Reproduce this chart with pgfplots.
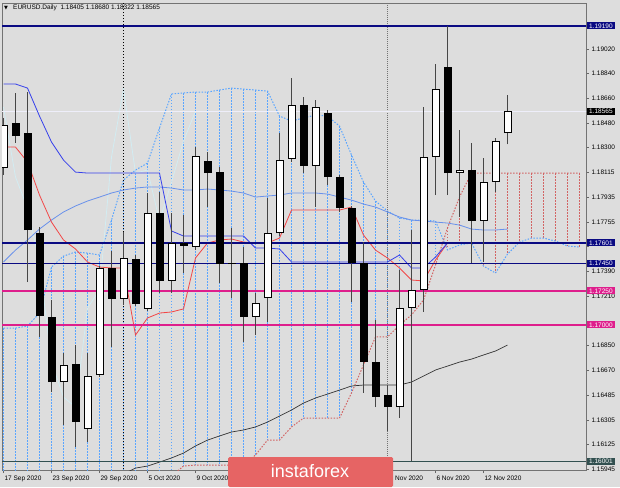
\documentclass[border=0pt]{standalone}
\usepackage{pgfplots}
\pgfplotsset{compat=1.18}
\usepackage{pgfplotstable}
\usepackage{fontspec}
\setmainfont{Liberation Sans}
\newfontfamily\symfont{DejaVu Sans}
\newcommand\tickfont{\fontsize{6.5}{7}\selectfont}

\definecolor{bg}{RGB}{221,221,221}
\definecolor{navyl}{RGB}{10,10,130}
\definecolor{magl}{RGB}{222,30,140}
\definecolor{slatel}{RGB}{50,80,80}
\definecolor{tenkan}{RGB}{242,70,70}
\definecolor{kijun}{RGB}{55,65,235}
\definecolor{mablue}{RGB}{105,145,235}
\definecolor{cloudblue}{RGB}{90,165,255}
\definecolor{cloudred}{RGB}{210,100,100}
\definecolor{chikou}{RGB}{210,236,242}
\definecolor{wick}{RGB}{70,70,70}
\definecolor{logo}{RGB}{230,100,100}
\definecolor{bidline}{RGB}{238,238,250}

% daily candles: index, open, high, low, close
\pgfplotstableread{
i o h l c
1 1.18478 1.18698 1.18332 1.18383
2 1.18405 1.18705 1.17314 1.17695
3 1.17673 1.17717 1.16912 1.17065
4 1.17058 1.17182 1.16509 1.16582
6 1.16714 1.16853 1.16106 1.16289
9 1.17417 1.17541 1.16838 1.17190
11 1.17483 1.17512 1.17139 1.17153
13 1.17819 1.17973 1.17234 1.17322
15 1.17600 1.17805 1.17380 1.17578
17 1.18200 1.18266 1.17863 1.18112
18 1.18120 1.18156 1.17307 1.17446
19 1.17453 1.17710 1.17197 1.17446
20 1.17453 1.17570 1.16875 1.17058
25 1.18610 1.18669 1.18112 1.18163
27 1.18551 1.18573 1.18024 1.18083
28 1.18083 1.18098 1.17827 1.17856
29 1.17856 1.17871 1.17168 1.17453
30 1.17453 1.17607 1.16502 1.16729
31 1.16729 1.17036 1.16399 1.16472
32 1.16487 1.16560 1.16223 1.16399
37 1.18888 1.19190 1.17951 1.18112
39 1.18134 1.18332 1.17453 1.17761
}\blackc

\pgfplotstableread{
i o h l c
0 1.18149 1.18515 1.18098 1.18464
5 1.16582 1.16794 1.16267 1.16707
7 1.16238 1.16794 1.16143 1.16626
8 1.16633 1.17431 1.16619 1.17417
10 1.17190 1.17680 1.17146 1.17490
12 1.17117 1.17966 1.17102 1.17819
14 1.17322 1.17819 1.17234 1.17600
16 1.17570 1.18303 1.17549 1.18237
21 1.17058 1.17234 1.16926 1.17161
22 1.17197 1.17929 1.17021 1.17673
23 1.17673 1.18405 1.17651 1.18207
24 1.18215 1.18808 1.18193 1.18610
26 1.18163 1.18647 1.17863 1.18595
33 1.16399 1.17402 1.16319 1.17124
34 1.17124 1.17695 1.16001 1.17256
35 1.17256 1.18595 1.17095 1.18229
36 1.18229 1.18910 1.17951 1.18727
38 1.18112 1.18427 1.17790 1.18134
40 1.17761 1.18222 1.17461 1.18046
41 1.18046 1.18368 1.17973 1.18346
42 1.18405 1.18680 1.18322 1.18565
}\whitec

% Ichimoku cloud: senkou span A (a) and B (b)
\pgfplotstableread{
i a b
0 1.16977 1.15700
1 1.16977 1.15700
2 1.16992 1.15700
3 1.17087 1.15700
4 1.17424 1.15700
5 1.17504 1.15700
6 1.17534 1.15700
7 1.17526 1.15700
8 1.17512 1.15700
9 1.17768 1.15700
10 1.18061 1.15700
11 1.18134 1.15700
12 1.18185 1.15700
13 1.18442 1.15750
14 1.18691 1.15894
15 1.18698 1.15967
16 1.18705 1.15974
17 1.18705 1.15974
18 1.18720 1.15974
19 1.18734 1.15974
20 1.18727 1.15974
21 1.18720 1.16048
22 1.18712 1.16157
23 1.18529 1.16157
24 1.18493 1.16253
25 1.18515 1.16318
26 1.18537 1.16318
27 1.18529 1.16318
28 1.18456 1.16318
29 1.18244 1.16502
30 1.18046 1.16707
31 1.17907 1.16912
32 1.17834 1.16912
33 1.17783 1.16999
34 1.17768 1.17073
35 1.17768 1.17182
36 1.17761 1.17439
37 1.17549 1.17710
38 1.17585 1.17936
39 1.17600 1.18112
40 1.17431 1.18112
41 1.17380 1.18112
42 1.17519 1.18112
43 1.17607 1.18112
44 1.17636 1.18112
45 1.17636 1.18112
46 1.17614 1.18112
47 1.17578 1.18112
48 1.17570 1.18112
}\cloud

% cloud hatching: one vertical segment per bar (span A to span B), nan breaks
\pgfplotstableread{
i y
0 1.16977
0 1.15700
0 nan
1 1.16977
1 1.15700
1 nan
2 1.16992
2 1.15700
2 nan
3 1.17087
3 1.15700
3 nan
4 1.17424
4 1.15700
4 nan
5 1.17504
5 1.15700
5 nan
6 1.17534
6 1.15700
6 nan
7 1.17526
7 1.15700
7 nan
8 1.17512
8 1.15700
8 nan
9 1.17768
9 1.15700
9 nan
10 1.18061
10 1.15700
10 nan
11 1.18134
11 1.15700
11 nan
12 1.18185
12 1.15700
12 nan
13 1.18442
13 1.15750
13 nan
14 1.18691
14 1.15894
14 nan
15 1.18698
15 1.15967
15 nan
16 1.18705
16 1.15974
16 nan
17 1.18705
17 1.15974
17 nan
18 1.18720
18 1.15974
18 nan
19 1.18734
19 1.15974
19 nan
20 1.18727
20 1.15974
20 nan
21 1.18720
21 1.16048
21 nan
22 1.18712
22 1.16157
22 nan
23 1.18529
23 1.16157
23 nan
24 1.18493
24 1.16253
24 nan
25 1.18515
25 1.16318
25 nan
26 1.18537
26 1.16318
26 nan
27 1.18529
27 1.16318
27 nan
28 1.18456
28 1.16318
28 nan
29 1.18244
29 1.16502
29 nan
30 1.18046
30 1.16707
30 nan
31 1.17907
31 1.16912
31 nan
32 1.17834
32 1.16912
32 nan
33 1.17783
33 1.16999
33 nan
34 1.17768
34 1.17073
34 nan
35 1.17768
35 1.17182
35 nan
36 1.17761
36 1.17439
}\hatchblue

\pgfplotstableread{
i y
37 1.17710
37 1.17549
37 nan
38 1.17936
38 1.17585
38 nan
39 1.18112
39 1.17600
39 nan
40 1.18112
40 1.17431
40 nan
41 1.18112
41 1.17380
41 nan
42 1.18112
42 1.17519
42 nan
43 1.18112
43 1.17607
43 nan
44 1.18112
44 1.17636
44 nan
45 1.18112
45 1.17636
45 nan
46 1.18112
46 1.17614
46 nan
47 1.18112
47 1.17578
47 nan
48 1.18112
48 1.17570
}\hatchred

% tenkan (t), kijun (k), moving average light blue (m)
\pgfplotstableread{
i t k m
0 1.18302 1.18764 1.17461
1 1.18302 1.18764 1.17548
2 1.18193 1.18734 1.17622
3 1.17951 1.18529 1.17702
4 1.17753 1.18339 1.17768
5 1.17622 1.18207 1.17827
6 1.17556 1.18119 1.17871
7 1.17461 1.18112 1.17907
8 1.17424 1.18112 1.17936
9 1.17417 1.18112 1.17966
10 1.17417 1.18112 1.17988
11 1.16926 1.18112 1.18002
12 1.17051 1.18112 1.18010
13 1.17087 1.18112 1.18010
14 1.17095 1.17688 1.18002
15 1.17117 1.17651 1.17988
16 1.17490 1.17651 1.17988
17 1.17600 1.17651 1.17995
18 1.17622 1.17651 1.17988
19 1.17629 1.17651 1.17980
20 1.17607 1.17651 1.17966
21 1.17600 1.17563 1.17936
22 1.17600 1.17563 1.17944
23 1.17636 1.17556 1.17951
24 1.17841 1.17461 1.17966
25 1.17841 1.17461 1.17966
26 1.17841 1.17461 1.17966
27 1.17841 1.17461 1.17958
28 1.17841 1.17461 1.17936
29 1.17863 1.17461 1.17914
30 1.17658 1.17461 1.17885
31 1.17548 1.17461 1.17863
32 1.17490 1.17461 1.17827
33 1.17417 1.17512 1.17790
34 1.17329 1.17417 1.17768
35 1.17322 1.17417 1.17761
36 1.17475 1.17497 1.17753
37 1.17600 1.17600 1.17746
38 1.17600 1.17600 1.17731
39 1.17600 1.17600 1.17702
40 1.17600 1.17600 1.17695
41 1.17600 1.17600 1.17695
42 1.17600 1.17600 1.17702
}\lines

% slow moving average (black)
\pgfplotstableread{
i y
10 1.15908
11 1.15952
12 1.15967
13 1.15996
14 1.16026
15 1.16062
16 1.16114
17 1.16157
18 1.16187
19 1.16216
20 1.16231
21 1.16253
22 1.16289
23 1.16333
24 1.16377
25 1.16428
26 1.16465
27 1.16494
28 1.16523
29 1.16553
30 1.16560
31 1.16560
32 1.16560
33 1.16560
34 1.16582
35 1.16626
36 1.16670
37 1.16699
38 1.16728
39 1.16750
40 1.16780
41 1.16809
42 1.16853
}\slowma

% chikou span (close shifted 26 bars back)
\pgfplotstableread{
i y
0 1.18595
1 1.18083
2 1.17856
3 1.17453
4 1.16729
5 1.16472
6 1.16399
7 1.17124
8 1.17256
9 1.18229
10 1.18727
11 1.18112
12 1.18134
13 1.17761
14 1.18046
15 1.18346
16 1.18565
}\chik

\pgfplotsset{
  vbar/.style={draw=none, mark=none, forget plot,
    error bars/y dir=plus, error bars/y explicit, error bars/error mark=none,
    error bars/error bar style={#1}},
}

\begin{document}
\begin{tikzpicture}
\fill[bg] (0,0) rectangle (620pt,487pt);
\useasboundingbox (0,0) rectangle (620pt,487pt);
\begin{axis}[
  at={(2pt,17pt)}, anchor=south west,
  scale only axis, width=584pt, height=467pt,
  xmin=-0.125, xmax=48.542, ymin=1.15938, ymax=1.19357,
  axis line style={draw=black!55, line width=0.7pt},
  tick align=outside, major tick length=3pt,
  tick style={black!60, line width=0.5pt},
  xtick pos=bottom, ytick pos=right, yticklabel pos=right,
  ytick={1.19020,1.18840,1.18660,1.18480,1.18300,1.18115,1.17935,1.17755,1.17573,1.17390,1.17210,1.17030,1.16850,1.16670,1.16485,1.16305,1.16125,1.15945},
  yticklabels={1.19020,1.18840,1.18660,1.18480,1.18300,1.18115,1.17935,1.17755,,1.17390,1.17210,,1.16850,1.16670,1.16485,1.16305,1.16125,1.15945},
  yticklabel style={font=\tickfont, anchor=west, xshift=-1pt},
  xtick={0,4,8,12,16,20,24,28,32,36,40},
  xticklabels={17 Sep 2020,23 Sep 2020,29 Sep 2020,5 Oct 2020,9 Oct 2020,,,,,6 Nov 2020,12 Nov 2020},
  xticklabel style={font=\tickfont, anchor=north west, xshift=-2.5pt, yshift=1pt},
  clip=true, unbounded coords=jump,
]
% cloud hatching
\addplot[cloudblue, line width=1.1pt, dash pattern=on 1.5pt off 1.5pt, forget plot] table[x=i, y=y] \hatchblue;
\addplot[cloudred, line width=1.1pt, dash pattern=on 1.5pt off 1.5pt, forget plot] table[x=i, y=y] \hatchred;
% span lines
\addplot[cloudblue, line width=1pt, dash pattern=on 1.5pt off 1.5pt, forget plot] table[x=i, y=a] \cloud;
\addplot[cloudred, line width=1pt, dash pattern=on 1.5pt off 1.5pt, forget plot] table[x=i, y=b] \cloud;
% chikou
\addplot[chikou, line width=0.8pt, forget plot] table[x=i, y=y] \chik;
% vertical dotted markers
\addplot[black, line width=0.8pt, dash pattern=on 1pt off 2pt, forget plot] coordinates {(10,1.15)(10,1.20)};
\addplot[black!55, line width=0.8pt, dash pattern=on 1pt off 1pt, forget plot] coordinates {(32,1.15)(32,1.20)};
% bid line
\addplot[bidline, line width=0.8pt, forget plot] coordinates {(-1,1.18565)(50,1.18565)};
% moving averages
\addplot[mablue, line width=0.8pt, forget plot] table[x=i, y=m] \lines;
\addplot[black!80, line width=0.7pt, forget plot] table[x=i, y=y] \slowma;
% tenkan / kijun
\addplot[tenkan, line width=0.8pt, forget plot] table[x=i, y=t] \lines;
\addplot[kijun, line width=0.8pt, forget plot] table[x=i, y=k] \lines;
% horizontal levels
\addplot[navyl, line width=1.6pt, forget plot] coordinates {(-1,1.19190)(50,1.19190)};
\addplot[navyl, line width=1.6pt, forget plot] coordinates {(-1,1.17601)(50,1.17601)};
\addplot[navyl, line width=1.6pt, forget plot] coordinates {(-1,1.17450)(50,1.17450)};
\addplot[magl, line width=1.6pt, forget plot] coordinates {(-1,1.17250)(50,1.17250)};
\addplot[magl, line width=1.6pt, forget plot] coordinates {(-1,1.17000)(50,1.17000)};
\addplot[slatel, line width=1.2pt, forget plot] coordinates {(-1,1.16001)(50,1.16001)};
% wicks
\addplot[vbar={draw=wick, line width=1pt}] table[x=i, y=l, y error plus expr=\thisrow{h}-\thisrow{l}] \blackc;
\addplot[vbar={draw=wick, line width=1pt}] table[x=i, y=l, y error plus expr=\thisrow{h}-\thisrow{l}] \whitec;
% bodies
\addplot[vbar={draw=black, line width=8pt}] table[x=i, y=c, y error plus expr=\thisrow{o}-\thisrow{c}] \blackc;
\addplot[vbar={draw=black, line width=8pt}] table[x=i, y=o, y error plus expr=\thisrow{c}-\thisrow{o}] \whitec;
\addplot[vbar={draw=white, line width=6pt}] table[x=i, y expr=\thisrow{o}+0.00007, y error plus expr=\thisrow{c}-\thisrow{o}-0.00014] \whitec;
% anchors for price labels
\coordinate (p1) at (axis cs:48.542,1.19190);
\coordinate (p2) at (axis cs:48.542,1.18565);
\coordinate (p3) at (axis cs:48.542,1.17601);
\coordinate (p4) at (axis cs:48.542,1.17450);
\coordinate (p5) at (axis cs:48.542,1.17250);
\coordinate (p6) at (axis cs:48.542,1.17000);
\coordinate (p7) at (axis cs:48.542,1.16001);
\end{axis}
\tikzset{lbl/.style={anchor=west, font=\tickfont, text=white, inner xsep=2pt, inner ysep=1.2pt, xshift=1pt, fill=#1}}
\node[lbl=navyl] at (p1) {1.19190};
\node[lbl=black] at (p2) {1.18565};
\node[lbl=navyl] at (p3) {1.17601};
\node[lbl=navyl] at (p4) {1.17450};
\node[lbl=magl] at (p5) {1.17250};
\node[lbl=magl] at (p6) {1.17000};
\node[lbl=slatel] at (p7) {1.16001};
% title
\node[anchor=west, inner sep=0pt, font=\fontsize{5}{6}\symfont] at (4pt,479pt) {▼};
\node[anchor=west, inner sep=0pt, font=\tickfont] at (13pt,479pt) {EURUSD.Daily\ \ 1.18405 1.18680 1.18322 1.18565};
% logo
\fill[logo, rounded corners=1.5pt] (228pt,0pt) rectangle (393pt,30pt);
\node[text=white, font=\fontsize{18}{20}\selectfont, inner sep=0pt] at (310pt,15.5pt) {instaforex};
\node[anchor=west, font=\tickfont, inner sep=0pt] at (395pt,9pt) {Nov 2020};
\end{tikzpicture}
\end{document}
